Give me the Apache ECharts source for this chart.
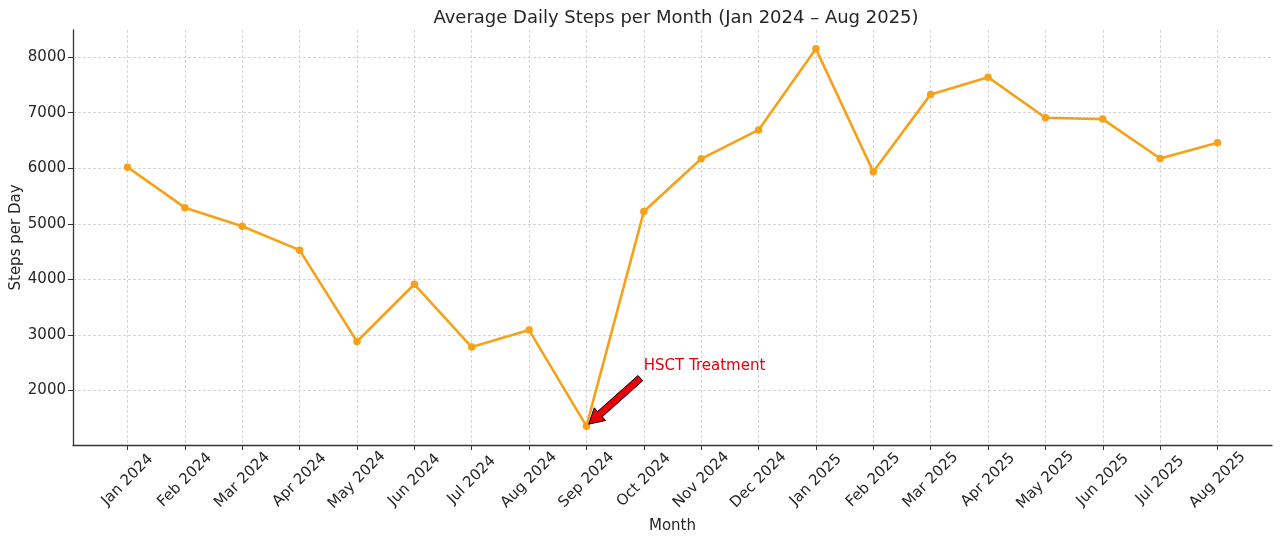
<!DOCTYPE html>
<html><head><meta charset="utf-8">
<script src="https://cdn.jsdelivr.net/npm/echarts@6/dist/echarts.min.js"></script>
<style>html,body{margin:0;padding:0;background:#fff}#c{width:1280px;height:543px}</style>
</head><body><div id="c"></div>
<script>
const months = ['Jan 2024','Feb 2024','Mar 2024','Apr 2024','May 2024','Jun 2024','Jul 2024','Aug 2024','Sep 2024','Oct 2024','Nov 2024','Dec 2024','Jan 2025','Feb 2025','Mar 2025','Apr 2025','May 2025','Jun 2025','Jul 2025','Aug 2025'];
const steps = [6020, 5290, 4955, 4525, 2880, 3910, 2780, 3085, 1355, 5220, 6170, 6690, 8150, 5935, 7330, 7640, 6910, 6885, 6175, 6460];
const yTicks = [2000, 3000, 4000, 5000, 6000, 7000, 8000];
const titleText = 'Average Daily Steps per Month (Jan 2024 \u2013 Aug 2025)';
const annotationText = 'HSCT Treatment';
const annotationIndex = 8;
const annotationTextPos = [9, 2440];
const annotationTail = [8.94, 2220];

const FONT = 'DejaVu Sans';
const TXT = '#262626';
const xIdx = months.map((m, i) => i);
const lineData = steps.map((v, i) => [i, v]);
const xPad = 0.05 * (months.length - 1);
const yPad = 0.05 * (Math.max(...steps) - Math.min(...steps));

const chart = echarts.init(document.getElementById('c'), null, {renderer: 'canvas'});
const gridLine = {show: true, lineStyle: {color: '#cccccc', width: 0.8, type: [3, 2]}};
chart.setOption({
  animation: false,
  backgroundColor: '#fff',
  title: {text: titleText, left: 671, top: 4, textAlign: 'center',
    textStyle: {fontFamily: FONT, fontSize: 18, fontWeight: 'normal', color: TXT}},
  grid: {left: 73, right: 8, top: 30, bottom: 98, containLabel: false, outerBoundsMode: 'none'},
  xAxis: {
    type: 'value', min: -xPad, max: months.length - 1 + xPad,
    name: 'Month', nameLocation: 'middle', nameGap: 74, nameMoveOverlap: false,
    nameTextStyle: {fontFamily: FONT, fontSize: 15, color: TXT},
    axisLine: {show: true, onZero: false, lineStyle: {color: '#333', width: 1.3}},
    axisTick: {show: true, length: 5, inside: false, customValues: xIdx, lineStyle: {color: '#333', width: 1}},
    axisLabel: {customValues: xIdx, formatter: v => months[Math.round(v)], rotate: 45, align: 'center', verticalAlign: 'middle',
      margin: 35, fontFamily: FONT, fontSize: 15, color: TXT, showMinLabel: true, showMaxLabel: true},
    splitLine: gridLine
  },
  yAxis: {
    type: 'value', min: Math.min(...steps) - yPad, max: Math.max(...steps) + yPad,
    name: 'Steps per Day', nameLocation: 'middle', nameGap: 49, nameMoveOverlap: false,
    nameTextStyle: {fontFamily: FONT, fontSize: 15, color: TXT},
    axisLine: {show: true, onZero: false, lineStyle: {color: '#333', width: 1.3}},
    axisTick: {show: true, length: 5, inside: false, customValues: yTicks, lineStyle: {color: '#333', width: 1}},
    axisLabel: {customValues: yTicks, formatter: v => String(v), margin: 7, fontFamily: FONT, fontSize: 15, color: TXT},
    splitLine: gridLine
  },
  series: [{
    type: 'line', data: lineData, symbol: 'circle', symbolSize: 7.5,
    lineStyle: {color: '#f5a21a', width: 2.6}, itemStyle: {color: '#f5a21a'}, z: 3
  }]
});

function drawAnnotation() {
  const head0 = chart.convertToPixel({gridIndex: 0}, [annotationIndex, steps[annotationIndex]]);
  const tail = chart.convertToPixel({gridIndex: 0}, annotationTail);
  const txt = chart.convertToPixel({gridIndex: 0}, annotationTextPos);
  const dx = head0[0] - tail[0], dy = head0[1] - tail[1];
  const L = Math.hypot(dx, dy), ux = dx / L, uy = dy / L;
  const head = [head0[0] - ux * 3, head0[1] - uy * 3];
  const nx = -uy, ny = ux;
  const sw = 3.5, hw = 8.5, hl = 15;
  const base = [head[0] - ux * hl, head[1] - uy * hl];
  const pts = [
    [tail[0] + nx * sw, tail[1] + ny * sw],
    [base[0] + nx * sw, base[1] + ny * sw],
    [base[0] + nx * hw, base[1] + ny * hw],
    head,
    [base[0] - nx * hw, base[1] - ny * hw],
    [base[0] - nx * sw, base[1] - ny * sw],
    [tail[0] - nx * sw, tail[1] - ny * sw]
  ];
  chart.setOption({graphic: [
    {type: 'polygon', shape: {points: pts}, style: {fill: '#e8000b', stroke: '#000', lineWidth: 1}, z: 10},
    {type: 'text', x: txt[0], y: txt[1], style: {text: annotationText, fill: '#e8000b', font: '15px "DejaVu Sans"', textAlign: 'left', textVerticalAlign: 'middle'}, z: 10}
  ]});
}
drawAnnotation();
</script>
</body></html>
